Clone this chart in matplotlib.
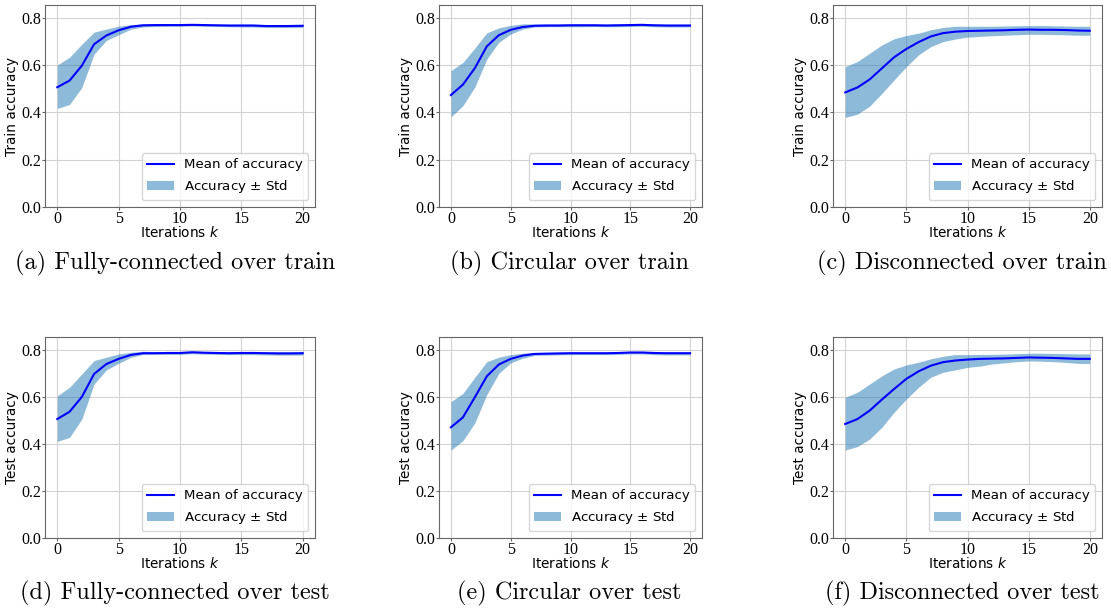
import numpy as np
import matplotlib
matplotlib.use("Agg")
import matplotlib.pyplot as plt

iterations = list(range(21))

a_mean = [0.507,0.535,0.598,0.689,0.726,0.748,0.763,0.769,0.770,0.770,0.770,0.771,0.770,0.769,0.768,0.768,0.768,0.766,0.766,0.766,0.767]
a_upper = [0.601,0.634,0.689,0.740,0.753,0.765,0.772,0.775,0.775,0.775,0.775,0.776,0.775,0.774,0.774,0.774,0.774,0.772,0.772,0.773,0.773]
a_lower = [0.417,0.434,0.506,0.647,0.705,0.729,0.753,0.762,0.764,0.765,0.765,0.766,0.765,0.764,0.763,0.762,0.762,0.760,0.760,0.760,0.760]

b_mean = [0.474,0.518,0.588,0.680,0.727,0.750,0.762,0.767,0.768,0.768,0.769,0.769,0.769,0.768,0.769,0.770,0.771,0.769,0.768,0.768,0.768]
b_upper = [0.577,0.612,0.673,0.737,0.758,0.769,0.775,0.775,0.775,0.775,0.776,0.776,0.776,0.775,0.776,0.777,0.777,0.775,0.774,0.774,0.774]
b_lower = [0.381,0.429,0.508,0.626,0.697,0.732,0.753,0.762,0.763,0.763,0.763,0.763,0.764,0.763,0.763,0.764,0.765,0.763,0.762,0.762,0.762]

c_mean = [0.485,0.506,0.540,0.587,0.634,0.669,0.698,0.722,0.736,0.742,0.745,0.746,0.747,0.748,0.750,0.751,0.750,0.750,0.749,0.747,0.746]
c_upper = [0.594,0.616,0.651,0.686,0.712,0.726,0.736,0.750,0.760,0.765,0.765,0.765,0.765,0.766,0.767,0.768,0.768,0.767,0.766,0.765,0.765]
c_lower = [0.379,0.393,0.427,0.481,0.538,0.594,0.644,0.679,0.700,0.711,0.719,0.722,0.725,0.727,0.729,0.731,0.731,0.730,0.729,0.727,0.727]

d_mean = [0.506,0.537,0.600,0.698,0.740,0.762,0.779,0.786,0.786,0.787,0.787,0.790,0.788,0.787,0.786,0.787,0.787,0.786,0.785,0.785,0.786]
d_upper = [0.605,0.641,0.698,0.755,0.769,0.783,0.790,0.794,0.793,0.793,0.793,0.795,0.794,0.793,0.793,0.793,0.793,0.793,0.793,0.793,0.793]
d_lower = [0.411,0.428,0.506,0.655,0.715,0.743,0.769,0.781,0.781,0.781,0.781,0.784,0.782,0.781,0.780,0.780,0.780,0.779,0.778,0.778,0.778]

e_mean = [0.471,0.513,0.599,0.688,0.738,0.762,0.776,0.783,0.784,0.785,0.786,0.786,0.786,0.786,0.787,0.789,0.789,0.787,0.786,0.786,0.786]
e_upper = [0.580,0.615,0.684,0.750,0.769,0.780,0.786,0.789,0.790,0.791,0.791,0.791,0.791,0.791,0.792,0.794,0.794,0.793,0.792,0.792,0.792]
e_lower = [0.374,0.414,0.490,0.610,0.700,0.745,0.765,0.777,0.778,0.779,0.780,0.780,0.780,0.780,0.781,0.783,0.783,0.780,0.779,0.779,0.779]

f_mean = [0.485,0.506,0.542,0.589,0.634,0.677,0.709,0.733,0.748,0.755,0.759,0.762,0.763,0.764,0.766,0.768,0.767,0.766,0.764,0.762,0.762]
f_upper = [0.599,0.620,0.655,0.690,0.719,0.736,0.748,0.762,0.773,0.780,0.780,0.781,0.781,0.782,0.784,0.786,0.786,0.785,0.784,0.783,0.783]
f_lower = [0.374,0.389,0.421,0.471,0.535,0.591,0.641,0.684,0.705,0.715,0.726,0.731,0.740,0.745,0.750,0.753,0.752,0.750,0.747,0.743,0.742]

captions = ["(a) Fully-connected over train", "(b) Circular over train", "(c) Disconnected over train",
            "(d) Fully-connected over test", "(e) Circular over test", "(f) Disconnected over test"]
ylabels = ["Train accuracy"] * 3 + ["Test accuracy"] * 3
means = [a_mean, b_mean, c_mean, d_mean, e_mean, f_mean]
uppers = [a_upper, b_upper, c_upper, d_upper, e_upper, f_upper]
lowers = [a_lower, b_lower, c_lower, d_lower, e_lower, f_lower]
yticks = [0.0, 0.2, 0.4, 0.6, 0.8]
xticks = [0, 5, 10, 15, 20]

W, H = 1111, 608
fig = plt.figure(figsize=(W / 100, H / 100), dpi=100)

col_px = [(45, 315), (439, 702), (833, 1102)]
row_px = [(5, 207), (337, 538)]
cap_x = [175, 569, 962]
cap_y = [263, 593]

for i in range(6):
    r, c = divmod(i, 3)
    l, rr = col_px[c]
    t, b = row_px[r]
    wpx, hpx = rr - l, b - t
    ax = fig.add_axes([l / W, 1 - b / H, wpx / W, hpx / H])
    ax.fill_between(iterations, lowers[i], uppers[i], color="#1f77b4", alpha=0.5,
                    linewidth=0, label="Accuracy $\\pm$ Std")
    ax.plot(iterations, means[i], color="blue", lw=1.5, label="Mean of accuracy")
    ax.set_xlim(-1, 21)
    ax.set_ylim(0, 0.855)
    ax.set_yticks(yticks)
    ax.set_xticks(xticks)
    ax.set_yticklabels([f"{v:.1f}" for v in yticks], family="Liberation Serif", fontsize=11.5)
    ax.set_xticklabels([str(v) for v in xticks], family="Liberation Serif", fontsize=11.5)
    ax.grid(True, color="#d3d3d3", lw=0.8)
    ax.set_axisbelow(True)
    for s in ax.spines.values():
        s.set_color("#666666")
        s.set_linewidth(0.8)
    ax.tick_params(length=2, color="#666666", pad=1)
    ax.set_ylabel(ylabels[i], fontsize=9.8)
    ax.set_xlabel("Iterations $k$", fontsize=9.8)
    ax.yaxis.set_label_coords(-26 / wpx, 0.5)
    ax.xaxis.set_label_coords(0.5, -18 / hpx)
    h, lab = ax.get_legend_handles_labels()
    ax.legend([h[1], h[0]], [lab[1], lab[0]], loc="lower right", fontsize=9.6)
    fig.text(cap_x[c] / W, 1 - cap_y[r] / H, captions[i], family="cmr10", fontsize=17.5,
             ha="center", va="center")

fig.savefig("out.png", dpi=100)
